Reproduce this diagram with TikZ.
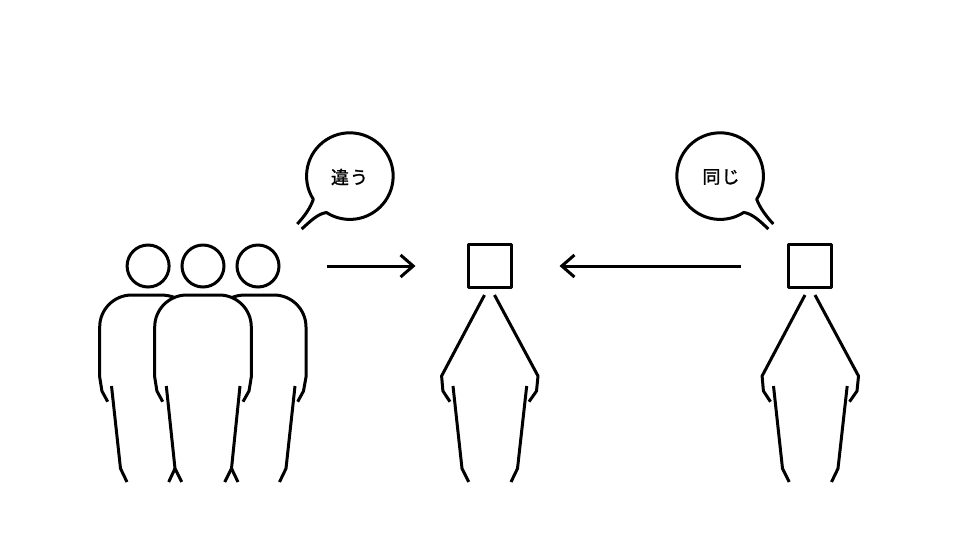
\documentclass[tikz,border=0pt]{standalone}
\usepackage{fontspec}
\newfontfamily\cjk[FakeBold=1.4, LetterSpace=6]{Noto Sans CJK JP}
\usetikzlibrary{arrows.meta}

\tikzset{
	outline/.style={line width=2.25pt, line join=round},
	headround/.style={draw, circle, line width=2.25pt, minimum size=31.5pt, inner sep=0pt},
	headsquare/.style={draw, rectangle, line width=2.25pt, line join=round, minimum size=31.8pt, inner sep=0pt},
	speech/.style={font=\cjk\fontsize{13.5pt}{16pt}\selectfont, inner sep=0pt},
	pointer/.style={line width=2.25pt, -{Straight Barb[length=9.5pt, width=16.5pt, line width=2.25pt]}}
}

\begin{document}
\begin{tikzpicture}[x=0.75pt, y=-0.75pt]
	\useasboundingbox (0,0) rectangle (978,558);

	% Teste del gruppo
	\node[headround] (headGroupA) at (148.1,266) {};
	\node[headround] (headGroupB) at (203,266) {};
	\node[headround] (headGroupC) at (258,266) {};

	% Persona a sinistra
	\draw[outline] (107.7,401.7) -- (101.9,391) -- (99.7,377) -- (99.7,327) arc[start angle=180, end angle=270, radius=32] -- (160,295) .. controls (166,295) and (171,296) .. (175,297.7);
	\draw[outline] (111.5,386) -- (120.5,468.5) -- (127,482);
	\draw[outline] (175,468.5) -- (168.7,482);

	% Persona al centro
	\draw[outline] (162.7,401.7) -- (156.9,391) -- (154.7,377) -- (154.7,327) arc[start angle=180, end angle=270, radius=32] -- (219.3,295) arc[start angle=270, end angle=360, radius=32] -- (251.3,377) -- (249,391) -- (243,401.7);
	\draw[outline] (166.3,386) -- (175,468.5) -- (181.7,482);
	\draw[outline] (240,386) -- (231.5,468.5) -- (224.7,482);

	% Persona a destra
	\draw[outline] (231.5,297.7) .. controls (235.5,296) and (240,295) .. (246,295) -- (274,295) arc[start angle=270, end angle=360, radius=32] -- (306,377) -- (303.5,391) -- (297.7,401.7);
	\draw[outline] (231.5,468.5) -- (238,482);
	\draw[outline] (295,386) -- (286,468.5) -- (279.5,482);

	% Figura centrale
	\node[headsquare] (headMiddle) at (489.8,266) {};
	\draw[outline] (484.5,295) -- (441.6,376) -- (442.9,391) -- (450,401.7);
	\draw[outline] (494.5,295) -- (538,376) -- (536.5,391) -- (529,401.7);
	\draw[outline] (453,386) -- (462,468.5) -- (468.7,482);
	\draw[outline] (526.7,386) -- (517.5,468.5) -- (511,482);

	% Figura a destra
	\node[headsquare] (headRight) at (810,266) {};
	\draw[outline] (805,295) -- (762.1,376) -- (763.4,391) -- (770.5,401.7);
	\draw[outline] (815,295) -- (858.5,376) -- (857,391) -- (849.5,401.7);
	\draw[outline] (773.5,386) -- (782.5,468.5) -- (789.2,482);
	\draw[outline] (847.2,386) -- (838,468.5) -- (831.5,482);

	% Fumetto di sinistra
	\draw[outline] (297.3,224) .. controls (304,216.5) and (310,209) .. (313.3,199.3) arc[start angle=147.6, end angle=482.7, radius=43.3] .. controls (318,213.5) and (310,221.5) .. (301.7,229);
	\node[speech] (labelDiff) at (349.5,177) {違う};

	% Fumetto di destra
	\draw[outline] (773.3,224) .. controls (766,216) and (760,208) .. (756.7,199.3) arc[start angle=32.4, end angle=-303, radius=43.3] .. controls (752,213.5) and (760,221) .. (768.3,229);
	\node[speech] (labelSame) at (721,177) {同じ};

	% Frecce
	\coordinate (arrowDiffTail) at (327,266);
	\coordinate (arrowDiffTip) at (415.5,266);
	\coordinate (arrowSameTail) at (741,266);
	\coordinate (arrowSameTip) at (559.5,266);
	\draw[pointer] (arrowDiffTail) -- (arrowDiffTip);
	\draw[pointer] (arrowSameTail) -- (arrowSameTip);

\end{tikzpicture}
\end{document}
